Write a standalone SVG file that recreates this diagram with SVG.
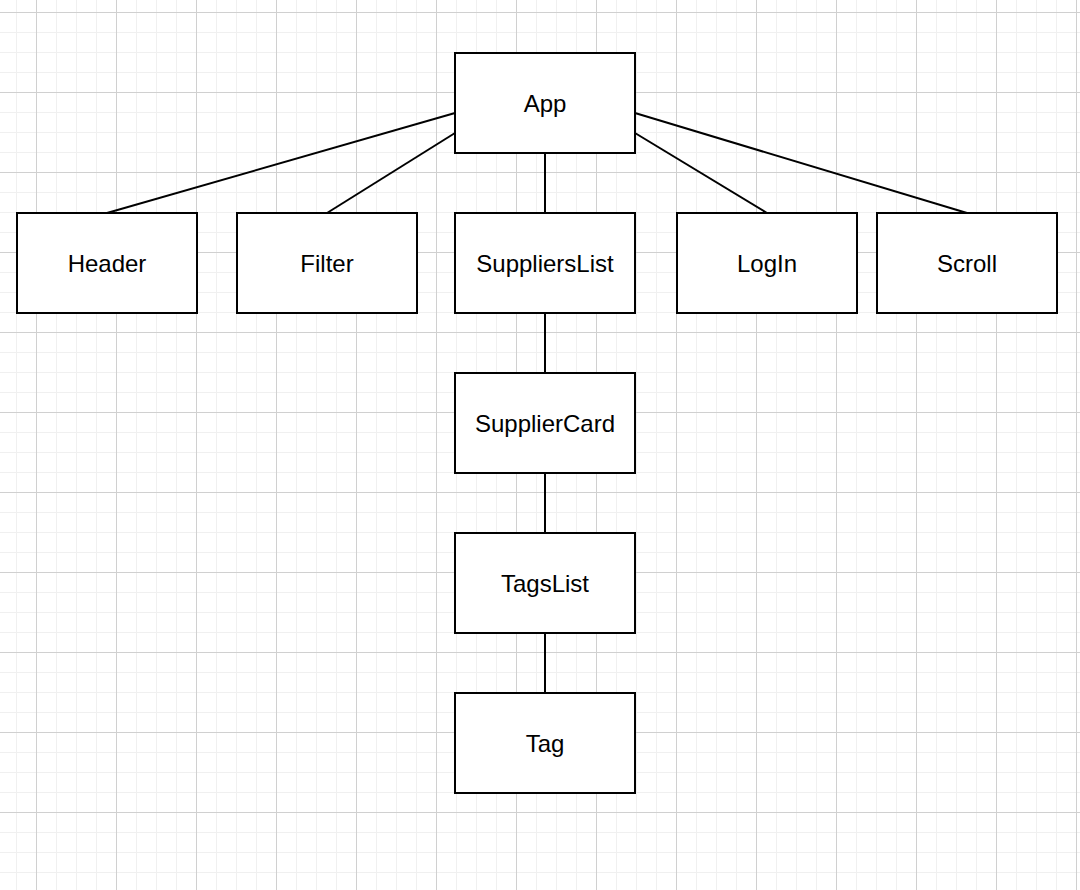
<svg xmlns="http://www.w3.org/2000/svg" width="1080" height="890" viewBox="0 0 1080 890">
<defs>
<pattern id="minor" x="16" y="12" width="20" height="20" patternUnits="userSpaceOnUse">
<path d="M0 0.5H20M0.5 0V20" fill="none" stroke="#f0f0f0" stroke-width="1"/>
</pattern>
<pattern id="major" x="36" y="12" width="80" height="80" patternUnits="userSpaceOnUse">
<path d="M0 0.5H80M0.5 0V80" fill="none" stroke="#d0d0d0" stroke-width="1"/>
</pattern>
</defs>
<style>
.box{fill:#ffffff;stroke:#000000;stroke-width:2}
.lbl{font-family:"Liberation Sans",Arial,Helvetica,sans-serif;font-size:24px;fill:#000000;text-anchor:middle}
.edge{stroke:#000000;stroke-width:2;fill:none}
</style>
<rect width="1080" height="890" fill="#ffffff"/>
<rect width="1080" height="890" fill="url(#minor)"/>
<rect width="1080" height="890" fill="url(#major)"/>
<g id="connectors">
<line class="edge" x1="455" y1="113" x2="107" y2="213"/>
<line class="edge" x1="455" y1="133" x2="327" y2="213"/>
<line class="edge" x1="545" y1="153" x2="545" y2="213"/>
<line class="edge" x1="635" y1="133" x2="767" y2="213"/>
<line class="edge" x1="635" y1="113" x2="967" y2="213"/>
<line class="edge" x1="545" y1="313" x2="545" y2="373"/>
<line class="edge" x1="545" y1="473" x2="545" y2="533"/>
<line class="edge" x1="545" y1="633" x2="545" y2="693"/>
</g>
<g id="node-app"><rect class="box" x="455" y="53" width="180" height="100"/><text class="lbl" x="545" y="112">App</text></g>
<g id="node-header"><rect class="box" x="17" y="213" width="180" height="100"/><text class="lbl" x="107" y="272">Header</text></g>
<g id="node-filter"><rect class="box" x="237" y="213" width="180" height="100"/><text class="lbl" x="327" y="272">Filter</text></g>
<g id="node-supplierslist"><rect class="box" x="455" y="213" width="180" height="100"/><text class="lbl" x="545" y="272">SuppliersList</text></g>
<g id="node-login"><rect class="box" x="677" y="213" width="180" height="100"/><text class="lbl" x="767" y="272">LogIn</text></g>
<g id="node-scroll"><rect class="box" x="877" y="213" width="180" height="100"/><text class="lbl" x="967" y="272">Scroll</text></g>
<g id="node-suppliercard"><rect class="box" x="455" y="373" width="180" height="100"/><text class="lbl" x="545" y="432">SupplierCard</text></g>
<g id="node-tagslist"><rect class="box" x="455" y="533" width="180" height="100"/><text class="lbl" x="545" y="592">TagsList</text></g>
<g id="node-tag"><rect class="box" x="455" y="693" width="180" height="100"/><text class="lbl" x="545" y="752">Tag</text></g>
</svg>
